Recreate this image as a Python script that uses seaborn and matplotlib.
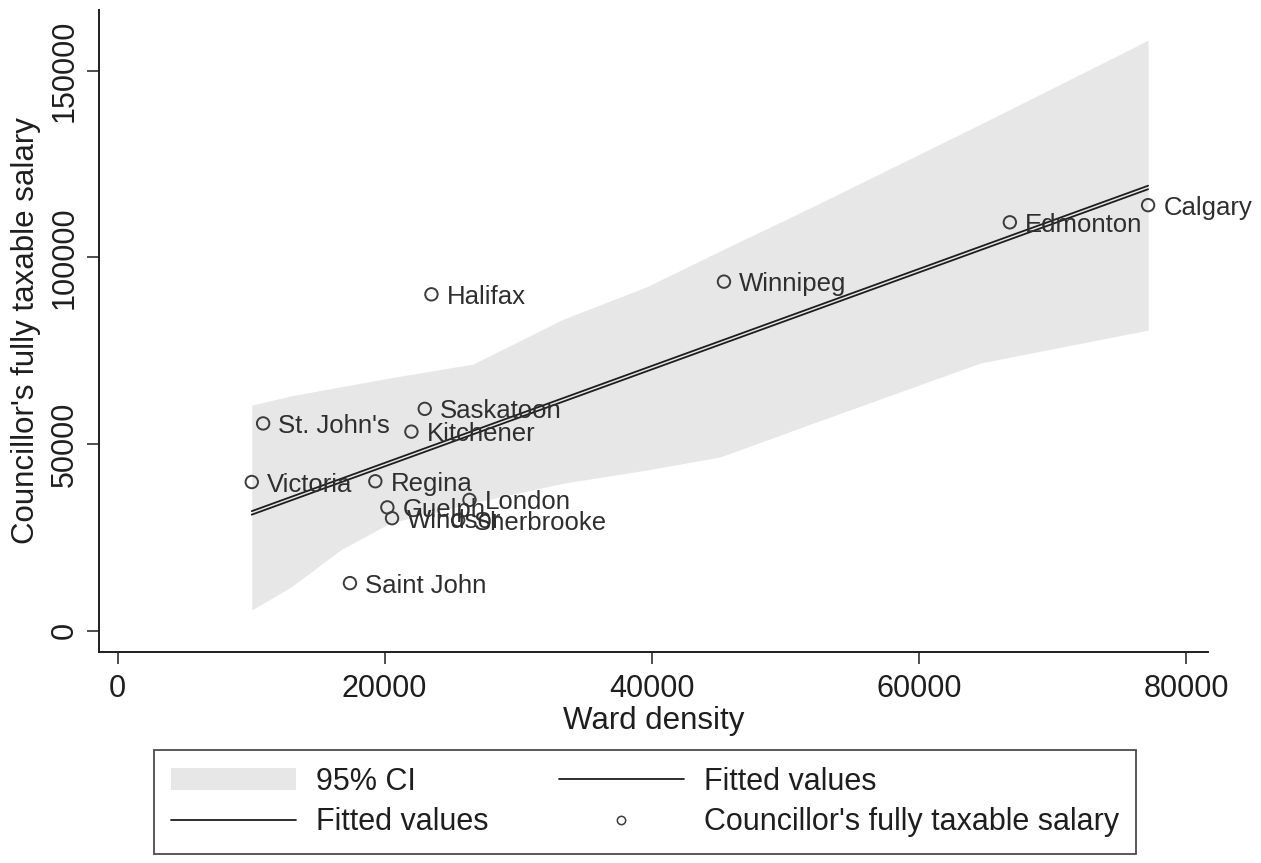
import numpy as np
import pandas as pd
import seaborn as sns
import matplotlib.pyplot as plt
import matplotlib.transforms as mtransforms
from matplotlib.lines import Line2D
from matplotlib.patches import Patch

sns.set_theme(style="ticks")
plt.rcParams["font.family"] = ["Liberation Sans", "DejaVu Sans"]

# Councillor salary vs. ward density, Canadian cities
cities = ["Victoria", "St. John's", "Saint John", "Regina", "Guelph", "Windsor",
          "Kitchener", "Saskatoon", "Halifax", "London", "Sherbrooke",
          "Winnipeg", "Edmonton", "Calgary"]
ward_density = [10050, 10900, 17400, 19300, 20200, 20550,
                22000, 23000, 23500, 26350, 25500,
                45400, 66800, 77150]
salary = [39800, 55500, 12700, 40000, 33000, 30100,
          53300, 59400, 90100, 35000, 29600,
          93500, 109400, 114000]

# 95% confidence band around the fitted line
ci_density = [10050, 13000, 16700, 20400, 26600, 33400, 39600, 45100, 52100, 64600, 77150]
ci_lower = [5500, 11700, 21600, 28800, 34200, 39500, 43000, 46500, 55600, 71700, 80500]
ci_upper = [60400, 62900, 65300, 67700, 71400, 83500, 92100, 101700, 113700, 135700, 158200]

df = pd.DataFrame({"city": cities, "density": ward_density, "salary": salary})

fig = plt.figure(figsize=(12.61, 8.63), dpi=100)
ax = fig.add_axes([0.0789, 0.2445, 0.8787, 0.7439])

ink = "#1e1e1e"
band_color = "#e7e7e7"

ax.fill_between(ci_density, ci_lower, ci_upper, color=band_color, lw=0, zorder=1)

# two fitted-value lines (CI fit and plain fit), printed slightly apart
shift = mtransforms.ScaledTranslation(0, -3.5 / 100, fig.dpi_scale_trans)
sns.regplot(data=df, x="density", y="salary", ax=ax, scatter=False, ci=None,
            line_kws=dict(color=ink, lw=1.3, zorder=3))
sns.regplot(data=df, x="density", y="salary", ax=ax, scatter=False, ci=None,
            line_kws=dict(color=ink, lw=1.3, zorder=3, transform=ax.transData + shift))

sns.scatterplot(data=df, x="density", y="salary", ax=ax, marker="o", s=80,
                facecolor="none", edgecolor="#3c3c3c", linewidth=1.4, zorder=4)

for name, xv, yv in zip(cities, ward_density, salary):
    ax.annotate(name, (xv, yv), xytext=(11, 0), textcoords="offset points",
                ha="left", va="center_baseline", fontsize=18.5, color="#2e2e2e",
                zorder=5, annotation_clip=False)

ax.set_xlim(-1350, 81600)
ax.set_ylim(-5760, 166300)
ax.set_xticks([0, 20000, 40000, 60000, 80000])
ax.set_yticks([0, 50000, 100000, 150000])
ax.set_xticklabels(["0", "20000", "40000", "60000", "80000"])
ax.set_yticklabels(["0", "50000", "100000", "150000"], rotation=90, va="center")
ax.tick_params(axis="both", direction="out", length=8.5, width=1.1, colors=ink,
               labelsize=22, labelcolor=ink)
ax.tick_params(axis="x", pad=7)
ax.tick_params(axis="y", pad=6)
ax.set_xlabel("Ward density", fontsize=22.5, color=ink, labelpad=2)
ax.set_ylabel("Councillor's fully taxable salary", fontsize=22.5, color=ink, labelpad=6)

for side in ("top", "right"):
    ax.spines[side].set_visible(False)
for side in ("left", "bottom"):
    ax.spines[side].set_color(ink)
    ax.spines[side].set_linewidth(1.4)

handles = [
    Patch(facecolor=band_color, edgecolor="none"),
    Line2D([], [], color=ink, lw=1.3),
    Line2D([], [], color=ink, lw=1.3),
    Line2D([], [], ls="none", marker="o", markersize=6, markerfacecolor="none",
           markeredgecolor="#3c3c3c", markeredgewidth=1.1),
]
labels = ["95% CI", "Fitted values", "Fitted values", "Councillor's fully taxable salary"]
leg = fig.legend(handles, labels, loc="center", bbox_to_anchor=(0.5115, 0.0707),
                 ncol=2, fontsize=22, frameon=True, fancybox=False, shadow=False,
                 edgecolor=ink, handlelength=4.1, handletextpad=0.65,
                 columnspacing=2.3, labelspacing=0.35, borderpad=0.55)
leg.get_frame().set_linewidth(1.3)
for t in leg.get_texts():
    t.set_color(ink)

fig.savefig("out.png", dpi=100, facecolor="white")
